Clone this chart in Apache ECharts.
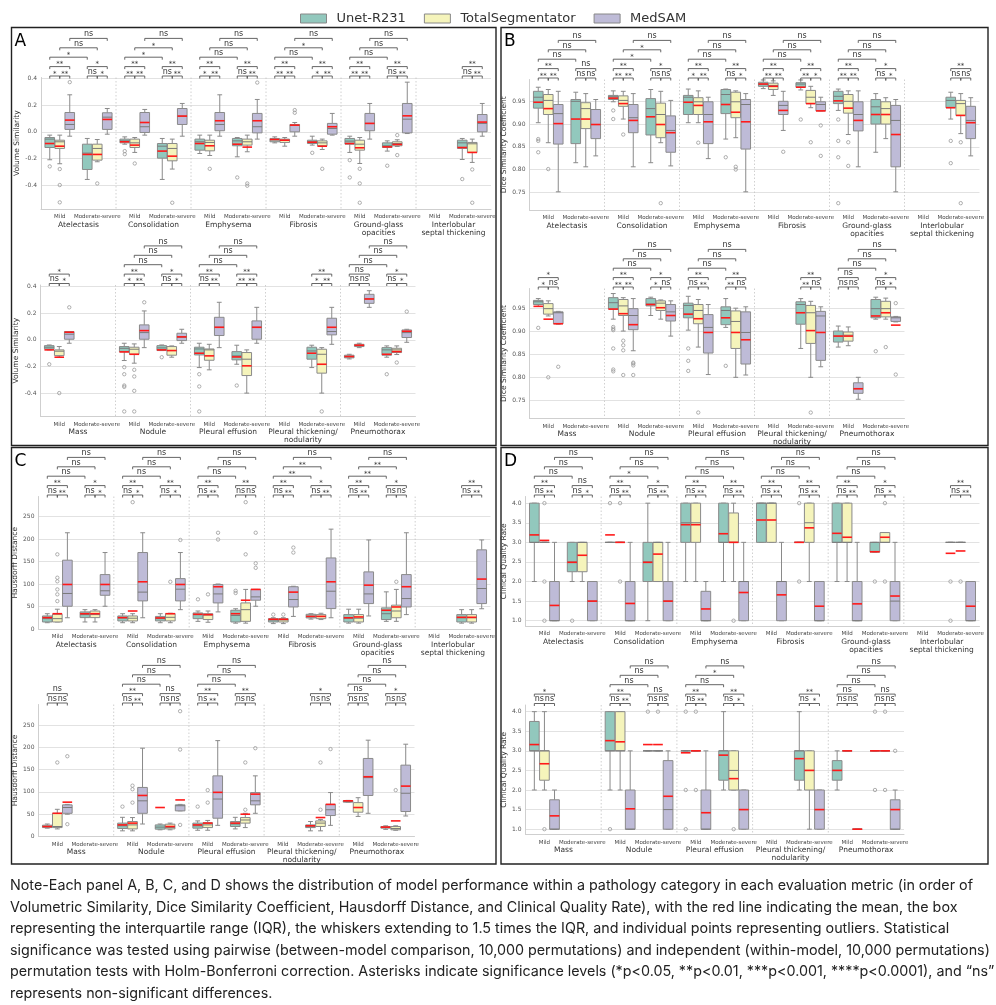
<!DOCTYPE html>
<html><head><meta charset="utf-8">
<script src="https://cdn.jsdelivr.net/npm/echarts@6.0.0/dist/echarts.min.js"></script>
<style>html,body{margin:0;padding:0;background:#fff}#c{width:996px;height:1005px}</style>
</head><body><div id="c"></div><script>
// ---------------- categories / labels ----------------
const models = ['Unet-R231', 'TotalSegmentator', 'MedSAM'];
const severities = ['Mild', 'Moderate-severe'];
const topPathologies = ['Atelectasis', 'Consolidation', 'Emphysema', 'Fibrosis', 'Ground-glass\nopacities', 'Interlobular\nseptal thickening'];
const bottomPathologies = ['Mass', 'Nodule', 'Pleural effusion', 'Pleural thickening/\nnodularity', 'Pneumothorax'];
const metricNames = ['Volume Similarity', 'Dice Similarity Coefficient', 'Hausdorff Distance', 'Clinical Quality Rate'];
const panelLetters = ['A', 'B', 'C', 'D'];
// index order of the 22 entries: [Atel Mild, Atel Mod, Cons Mild, Cons Mod, Emph.., Fibr.., GGO.., ILS.., Mass.., Nodule.., PE.., PT.., Pneumo..]
// box = [lower whisker, Q1, median, Q3, upper whisker]

// ---------------- A: Volume Similarity ----------------
const vsUnetBox = [[-0.21,-0.118,-0.055,-0.043,-0.025],[-0.358,-0.283,-0.16,-0.093,-0.05],[-0.093,-0.083,-0.068,-0.055,-0.038],[-0.358,-0.198,-0.108,-0.088,-0.05],[-0.163,-0.138,-0.075,-0.055,-0.025],[-0.188,-0.105,-0.068,-0.05,-0.043],[-0.083,-0.075,-0.058,-0.05,-0.038],[-0.1,-0.088,-0.075,-0.063,-0.033],[-0.155,-0.093,-0.07,-0.05,-0.033],[-0.145,-0.118,-0.105,-0.083,-0.068],null,[-0.208,-0.125,-0.083,-0.063,-0.05],[-0.075,-0.068,-0.055,-0.043,-0.038],null,[-0.155,-0.09,-0.063,-0.05,-0.025],[-0.08,-0.08,-0.06,-0.043,-0.038],[-0.208,-0.113,-0.068,-0.055,-0.025],[-0.183,-0.15,-0.12,-0.088,-0.04],null,[-0.208,-0.145,-0.083,-0.055,-0.04],[-0.143,-0.135,-0.125,-0.115,-0.108],[-0.13,-0.115,-0.075,-0.058,-0.045]];
const vsUnetMean = [-0.088,-0.17,-0.075,-0.145,-0.088,-0.093,-0.058,-0.078,-0.088,-0.113,null,-0.118,-0.075,null,-0.09,-0.075,-0.1,-0.128,null,-0.1,-0.125,-0.108];
const vsUnetOut = [[-0.26],[],[-0.145,-0.168],[],[],[-0.343],[],[-0.158],[-0.213,-0.343],[-0.255],[],[-0.355],[-0.183],[],[-0.205,-0.258,-0.343,-0.353,-0.538],[-0.13],[-0.258,-0.35,-0.538],[-0.343],[],[],[],[-0.258]];
const vsTotalBox = [[-0.24,-0.125,-0.075,-0.063,-0.025],[-0.225,-0.213,-0.125,-0.093,-0.058],[-0.155,-0.118,-0.083,-0.055,-0.043],[-0.28,-0.218,-0.125,-0.088,-0.055],[-0.178,-0.143,-0.08,-0.063,-0.025],[-0.15,-0.1,-0.075,-0.055,-0.025],[-0.108,-0.08,-0.063,-0.055,-0.043],[-0.133,-0.105,-0.083,-0.068,-0.055],[-0.238,-0.138,-0.093,-0.063,-0.043],[-0.11,-0.105,-0.088,-0.075,-0.06],null,[-0.23,-0.155,-0.09,-0.08,-0.055],[-0.13,-0.118,-0.085,-0.075,-0.05],null,[-0.175,-0.108,-0.07,-0.055,-0.03],[-0.13,-0.115,-0.08,-0.05,-0.045],[-0.225,-0.153,-0.075,-0.068,-0.033],[-0.4,-0.268,-0.145,-0.095,-0.075],null,[-0.4,-0.25,-0.108,-0.07,-0.058],[-0.058,-0.05,-0.04,-0.033,-0.025],[-0.11,-0.095,-0.075,-0.063,-0.045]];
const vsTotalMean = [-0.108,-0.17,-0.1,-0.183,-0.105,-0.115,-0.063,-0.108,-0.12,-0.095,null,-0.155,-0.13,null,-0.108,-0.08,-0.12,-0.195,null,-0.183,-0.04,-0.088];
const vsTotalOut = [[-0.28,-0.4,-0.53],[-0.388],[-0.238],[-0.533],[-0.278],[-0.388,-0.405],[],[-0.278],[-0.278,-0.388,-0.533],[-0.025,-0.175],[],[-0.283,-0.533],[-0.4],[],[-0.225,-0.275,-0.383,-0.538],[],[],[],[],[-0.538],[],[-0.17]];
const vsMedsamBox = [[-0.033,0.018,0.055,0.145,0.278],[-0.018,0.018,0.11,0.143,0.175],[-0.025,-0.005,0.038,0.145,0.168],[-0.033,0.055,0.118,0.175,0.213],[-0.033,0.008,0.055,0.145,0.278],[-0.055,-0.008,0.038,0.138,0.243],[-0.033,0.0,0.048,0.055,0.07],[-0.025,-0.018,0.025,0.063,0.138],[-0.055,0.008,0.063,0.138,0.213],[-0.013,-0.008,0.095,0.213,0.373],null,[-0.033,0.0,0.063,0.13,0.213],[-0.025,0.005,0.043,0.063,0.063],null,[-0.058,0.005,0.055,0.113,0.218],[-0.025,-0.005,0.02,0.05,0.08],[-0.058,0.033,0.095,0.17,0.283],[-0.025,0.005,0.095,0.143,0.245],null,[-0.033,0.038,0.063,0.163,0.245],[0.245,0.275,0.308,0.343,0.37],[-0.018,0.018,0.055,0.075,0.08]];
const vsMedsamMean = [0.088,0.093,0.07,0.118,0.083,0.083,0.05,0.038,0.063,0.12,null,0.073,0.058,null,0.07,0.023,0.095,0.095,null,0.095,0.308,0.065];
const vsMedsamOut = [[0.373],[],[],[],[],[0.37],[0.143,0.163],[],[],[],[],[],[0.245],[],[0.283],[],[],[],[],[],[],[0.213]];
// significance per pathology: [Mild (U-T, T-M, U-M), Moderate-severe (same), cross Mild vs Mod (U, T, M)]
const vsSig = [[['*','**','**'],['ns','*','*'],['*','ns','ns']],[['**','**','**'],['ns','**','**'],['*','*','ns']],[['*','**','**'],['ns','**','**'],['ns','ns','ns']],[['**','**','**'],['*','**','**'],['ns','*','ns']],[['**','**','**'],['ns','**','**'],['ns','ns','ns']],[null,['ns','**','**'],null],[['ns','*','*'],null,null],[['*','**','**'],['ns','*','*'],['ns','ns','ns']],[['ns','**','**'],['**','**','**'],['ns','ns','ns']],[null,['*','**','**'],null],[['ns','ns','ns'],['ns','*','*'],['ns','ns','ns']]];

// ---------------- B: Dice Similarity Coefficient ----------------
const dscUnetBox = [[0.903,0.935,0.959,0.972,0.981],[0.815,0.857,0.95,0.954,0.97],[0.949,0.954,0.96,0.963,0.973],[0.815,0.876,0.934,0.956,0.976],[0.903,0.921,0.959,0.963,0.977],[0.867,0.923,0.965,0.976,0.977],[0.978,0.983,0.988,0.992,0.997],[0.975,0.981,0.988,0.991,0.997],[0.93,0.945,0.961,0.972,0.977],[0.838,0.9,0.938,0.954,0.967],null,[0.911,0.936,0.952,0.959,0.97],[0.955,0.959,0.965,0.968,0.972],null,[0.927,0.949,0.963,0.974,0.983],[0.935,0.956,0.96,0.972,0.975],[0.903,0.93,0.957,0.962,0.977],[0.909,0.915,0.946,0.954,0.972],null,[0.863,0.916,0.959,0.965,0.972],[0.866,0.877,0.89,0.901,0.912],[0.927,0.93,0.95,0.97,0.975]];
const dscUnetMean = [0.948,0.911,0.957,0.916,0.948,0.943,0.988,0.981,0.951,0.921,null,0.936,0.955,null,0.949,0.959,0.938,0.93,null,0.941,0.89,0.934];
const dscUnetOut = [[0.867,0.863,0.838],[],[0.93,0.911],[],[],[0.827],[],[0.91],[0.91,0.863,0.827,0.726],[],[],[0.863,0.814],[0.908],[],[0.91,0.906,0.903,0.863,0.817,0.813],[],[0.863,0.836,0.814],[0.825],[],[],[],[0.857]];
const dscTotalBox = [[0.859,0.921,0.952,0.965,0.976],[0.806,0.89,0.934,0.947,0.967],[0.911,0.939,0.952,0.962,0.972],[0.859,0.87,0.921,0.946,0.972],[0.903,0.921,0.949,0.958,0.973],[0.87,0.914,0.949,0.97,0.973],[0.963,0.976,0.985,0.99,0.995],[0.936,0.945,0.959,0.974,0.983],[0.877,0.924,0.95,0.965,0.973],[0.868,0.9,0.934,0.949,0.958],null,[0.879,0.919,0.945,0.952,0.967],[0.934,0.938,0.95,0.961,0.967],null,[0.901,0.935,0.956,0.97,0.974],[0.927,0.946,0.962,0.967,0.969],[0.866,0.917,0.946,0.959,0.97],[0.8,0.863,0.922,0.945,0.951],null,[0.8,0.874,0.941,0.957,0.966],[0.869,0.879,0.892,0.899,0.91],[0.927,0.932,0.95,0.966,0.973]];
const dscTotalMean = [0.934,0.911,0.945,0.899,0.941,0.926,0.983,0.945,0.935,0.921,null,0.919,0.927,null,0.939,0.952,0.928,0.898,null,0.902,0.89,0.941];
const dscTotalOut = [[0.801],[],[0.877],[0.726],[0.859],[0.806,0.8],[],[0.86],[0.86,0.808],[],[],[0.86,0.726],[0.8],[],[0.88,0.87,0.859,0.805],[],[0.723],[],[],[0.723],[],[0.866]];
const dscMedsamBox = [[0.751,0.856,0.923,0.943,0.972],[0.83,0.868,0.899,0.932,0.954],[0.806,0.881,0.914,0.943,0.967],[0.808,0.838,0.886,0.918,0.952],[0.824,0.857,0.921,0.949,0.959],[0.751,0.845,0.943,0.954,0.967],[0.886,0.921,0.941,0.95,0.972],[0.929,0.929,0.943,0.949,0.959],[0.806,0.885,0.921,0.949,0.973],[0.751,0.806,0.908,0.941,0.954],null,[0.83,0.868,0.908,0.939,0.958],[0.916,0.917,0.941,0.943,0.944],null,[0.858,0.904,0.935,0.95,0.972],[0.89,0.923,0.943,0.959,0.967],[0.806,0.853,0.909,0.937,0.959],[0.805,0.829,0.898,0.943,0.954],null,[0.823,0.837,0.934,0.944,0.954],[0.752,0.765,0.775,0.788,0.8],[0.921,0.922,0.93,0.932,0.933]];
const dscMedsamMean = [0.901,0.899,0.908,0.881,0.905,0.905,0.93,0.929,0.908,0.877,null,0.903,0.917,null,0.915,0.935,0.898,0.882,null,0.898,0.775,0.914];
const dscMedsamOut = [[],[],[],[],[],[],[0.839],[0.897,0.83],[],[],[],[],[0.823],[],[0.832,0.83,0.826,0.805],[],[],[],[],[],[],[0.962,0.806]];
const dscSig = [[['**','**','**'],['ns','ns','ns'],['ns','ns','ns']],[['**','**','**'],['ns','ns','*'],['*','*','ns']],[['*','**','**'],['ns','*','**'],['ns','ns','ns']],[['**','**','**'],['**','*','**'],['ns','ns','ns']],[['**','**','**'],['ns','*','*'],['ns','ns','ns']],[null,['ns','ns','**'],null],[['*','ns','*'],null,null],[['**','**','**'],['*','ns','*'],['ns','ns','ns']],[['ns','**','**'],['**','ns','**'],['ns','ns','ns']],[null,['**','ns','**'],null],[['ns','ns','ns'],['ns','*','*'],['ns','ns','ns']]];

// ---------------- C: Hausdorff Distance ----------------
const hdUnetBox = [[14,15.6,23,29,34],[15.6,25.3,32,38,43],[14,17.9,24.6,29,34],[14,18,23,28,34],[17,23,32,35.7,40],[13,15.6,30,41.7,45],[12,15.6,20,23,25],[22,24.6,28,32.7,34],[13,15.6,24,32,44],[17,21,34,47,82.6],null,[13,15.6,25,32,43],[18.7,20,22.4,25.4,28],null,[12.7,18,24,30,43],[15,16.4,21,26,28],[14,18.7,24,30,35],[17,22.4,28,33.6,43],null,[12.7,20,22,26,33.6],[77,77,78.5,80.6,81],[16,18.7,20.5,22.4,24]];
const hdUnetMean = [25.3,34,25.3,24.6,32.7,34,21.6,28,25,41.7,null,26,22.4,null,26,65,26,30,null,24,80,21];
const hdUnetOut = [[],[],[],[],[66],[85,80],[32],[],[],[],[],[],[],[],[67],[],[67],[],[],[],[],[]];
const hdTotalBox = [[15.6,15.6,23,32.7,44],[15.6,25.3,32,40,43],[14,17.9,24,29,34],[14,18,26,34,35],[15,21,31,34,40],[13,17,43,58,88],[12,15.6,20,23,25],[21,23,28,32,35],[13,15.6,24,32,44],[17,25,40,53,88],null,[13,15.6,25,32,43],[17,20,22.4,52,61],null,[12.7,17,26,33.6,42.5],[15,17,20,27.6,30],[14,20,26,31,36],[20,30,37,42.5,52],null,[12.7,22.4,30,35,38],[45,54.5,65,76,87],[14,15,18,22.4,24]];
const hdTotalMean = [34,34,40,34,32,64,21.6,28,26.8,49,null,26,52,null,30,22.4,30,50,null,42.5,65,35];
const hdTotalOut = [[166,114,106,88,77,62],[],[282],[105],[77],[282,166],[32],[],[],[105],[],[],[166],[],[114,106,76],[],[104,76],[166,60],[],[166,60],[],[104]];
const hdMedsamBox = [[25,50.6,79,153,214],[50.6,75,85,121,170],[25,62.5,82,170,214],[43,62.5,88.5,112,170],[38,58,78,99,100],[50.6,64,71.4,88,88],[28,49,65.5,94,95],[25,45.4,84,158,222],[29,56.5,78,127,198],[32,49,67.7,121,214],null,[45,56.5,90,176,198],[50,52,65,71,72],null,[28,52,80,110,198],[57.5,57.5,69,71,72],[25,41,84,136,215],[52,71,80,98.5,136],null,[25,47,60,72,98.5],[52,92,132,175,216],[46,56,97,160,207]];
const hdMedsamMean = [99,99,105,99,94,88,82,105,97.5,94,null,111,77,null,92,82,99,95,null,72,134,113];
const hdMedsamOut = [[],[],[],[198],[214,199],[214,146,136],[181,170],[],[],[],[],[],[180,27.6],[],[],[281,195,26],[],[198],[],[196],[],[]];
const hdSig = [[['ns','**','**'],['ns','*','*'],['ns','ns','ns']],[['ns','*','**'],['ns','*','**'],['ns','ns','ns']],[['ns','**','**'],['ns','ns','**'],['ns','ns','ns']],[['ns','**','**'],['ns','**','*'],['**','**','ns']],[['ns','**','**'],['ns','ns','*'],['**','**','ns']],[null,['ns','**','**'],null],[['ns','ns','ns'],null,null],[['ns','**','**'],['ns','ns','ns'],['ns','ns','ns']],[['ns','**','**'],['ns','ns','**'],['ns','ns','ns']],[null,['ns','ns','*'],null],[['ns','ns','ns'],['ns','ns','*'],['ns','ns','ns']]];

// ---------------- D: Clinical Quality Rate ----------------
const cqrUnetBox = [[2,3,3,4,4],[2,2.25,2.5,3,3],[3,3,3,3,3],[1,2,2.5,3,4],[2,3,3.5,4,4],[2,3,3,4,4],[3,3,4,4,4],[3,3,3,3,3],[2,3,3,4,4],[2.75,2.75,3,3,3],null,[3,3,3,3,3],[2,3,3,3.75,4],null,[2,3,3,4,4],[3,3,3,3,3],[3,3,3,3,3],[2,2.25,3,3,4],null,[2,2.25,3,3,4],[2,2.25,2.5,2.75,3],[3,3,3,3,3]];
const cqrUnetMean = [3.19,2.49,3.19,2.49,3.45,3.22,3.57,3.0,3.23,2.76,null,2.72,3.16,null,3.26,3.16,2.95,2.89,null,2.8,2.5,3.0];
const cqrUnetOut = [[],[1],[4],[],[],[],[],[4,2],[],[2],[],[2,1],[],[],[1],[4],[4,2,1],[],[],[],[],[4,2]];
const cqrTotalBox = [[3,3,3,3,3],[2,2.25,3,3,3],[3,3,3,3,3],[2,2,3,3,3],[2,3,3.5,4,4],[2,3,3,3.75,4],[3,3,4,4,4],[2,3,3.5,4,4],[2,3,3,4,4],[3,3,3,3.25,3.25],null,[3,3,3,3,3],[2,2.25,3,3,4],null,[2,3,3,4,4],[3,3,3,3,3],[3,3,3,3,3],[2,2,2.5,3,3],null,[1,2,2.5,3,3],[3,3,3,3,3],[3,3,3,3,3]];
const cqrTotalMean = [3.05,2.67,3.0,2.7,3.45,3.0,3.57,3.37,3.13,3.13,null,2.78,2.67,null,3.23,3.16,3.0,2.29,null,2.5,3.0,3.0];
const cqrTotalOut = [[4,2,1],[],[4,2],[],[],[1],[],[],[],[4,2],[],[2],[1],[],[],[4],[4,2],[1],[],[],[],[4,2]];
const cqrMedsamBox = [[1,1,1,2,3],[1,1,1.5,2,2],[1,1,1,2,3],[1,1,1.5,2,3],[1,1,1,1.75,2],[1,1,2,2,3],[1,1,2,2,3],[1,1,1,2,2],[1,1,1,2,3],[1,1,1.5,2,3],null,[1,1,1,2,2],[1,1,1,1.75,2],null,[1,1,1,2,3],[1,1,1.5,2.75,3],[1,1,1,2,3],[1,1,1.5,2,2],null,[1,1,1.5,2,2],[1,1,1,1,1],[1,1,1,1.75,2]];
const cqrMedsamMean = [1.39,1.5,1.44,1.5,1.3,1.72,1.66,1.37,1.43,1.63,null,1.37,1.34,null,1.52,1.84,1.42,1.5,null,1.5,1.0,1.5];
const cqrMedsamOut = [[],[],[],[],[],[],[],[],[],[],[],[],[],[],[],[],[],[],[],[],[],[3]];
const cqrSig = [[['ns','**','**'],['ns','*','ns'],['ns','ns','ns']],[['ns','**','**'],['ns','**','*'],['*','ns','ns']],[['ns','**','**'],['ns','**','**'],['ns','ns','ns']],[['ns','**','**'],['ns','**','**'],['ns','ns','ns']],[['ns','**','**'],['ns','*','*'],['ns','ns','ns']],[null,['ns','**','**'],null],[['ns','ns','*'],null,null],[['ns','**','**'],['ns','ns','ns'],['ns','ns','ns']],[['ns','**','**'],['ns','*','**'],['ns','*','ns']],[null,['ns','*','**'],null],[['ns','ns','ns'],['ns','ns','ns'],['ns','ns','ns']]];

const noteLines = [
  'Note-Each panel A, B, C, and D shows the distribution of model performance within a pathology category in each evaluation metric (in order of',
  'Volumetric Similarity, Dice Similarity Coefficient, Hausdorff Distance, and Clinical Quality Rate), with the red line indicating the mean, the box',
  'representing the interquartile range (IQR), the whiskers extending to 1.5 times the IQR, and individual points representing outliers. Statistical',
  'significance was tested using pairwise (between-model comparison, 10,000 permutations) and independent (within-model, 10,000 permutations)',
  'permutation tests with Holm-Bonferroni correction. Asterisks indicate significance levels (*p<0.05, **p<0.01, ***p<0.001, ****p<0.0001), and \u201cns\u201d',
  'represents non-significant differences.'
];

// ---------------- styling / layout ----------------
const modelColors = ['#92c8bd', '#f5f4bb', '#bebbd7'];
const FONT = 'DejaVu Sans';
const panelGrids = [
  [[41, 77.5, 450, 131.5], [40.5, 285, 375, 131.5]],
  [[529.5, 79.5, 450, 130.5], [529.5, 288.5, 375, 130]],
  [[38.5, 496.5, 452, 132.5], [38.5, 704.5, 376, 132]],
  [[525.5, 496.5, 454, 129.5], [525.5, 705, 378.5, 129.5]]
];
const yRanges = [[[-0.58, 0.408], [-0.576, 0.413]], [[0.711, 0.998], [0.71, 0.994]], [[0, 294.6], [0, 296]], [[0.865, 4.17], [0.864, 4.17]]];
const ySteps = [0.2, 0.05, 50, 0.5];
const yDecimals = [1, 2, 0, 1];
const nameGaps = [20, 21, 18, 16];
const panelFrames = [[11.5, 27.5, 484.5, 418], [501, 27.5, 487, 418], [11.5, 447.5, 484.5, 416.5], [501, 447.5, 487, 416.5]];

const metricDefs = [
  { boxes: [vsUnetBox, vsTotalBox, vsMedsamBox], means: [vsUnetMean, vsTotalMean, vsMedsamMean], outs: [vsUnetOut, vsTotalOut, vsMedsamOut], sig: vsSig },
  { boxes: [dscUnetBox, dscTotalBox, dscMedsamBox], means: [dscUnetMean, dscTotalMean, dscMedsamMean], outs: [dscUnetOut, dscTotalOut, dscMedsamOut], sig: dscSig },
  { boxes: [hdUnetBox, hdTotalBox, hdMedsamBox], means: [hdUnetMean, hdTotalMean, hdMedsamMean], outs: [hdUnetOut, hdTotalOut, hdMedsamOut], sig: hdSig },
  { boxes: [cqrUnetBox, cqrTotalBox, cqrMedsamBox], means: [cqrUnetMean, cqrTotalMean, cqrMedsamMean], outs: [cqrUnetOut, cqrTotalOut, cqrMedsamOut], sig: cqrSig }
];

function makeFormatter(step, dec) {
  return function (v) {
    const q = v / step;
    if (Math.abs(q - Math.round(q)) > 1e-6) return '';
    const val = Math.round(q) * step;
    return (Math.abs(val) < 1e-9 ? 0 : val).toFixed(dec);
  };
}
function hueStep(api) { return api.size([1, 0])[0] * 0.8 / 3; }

function makeBoxRender(k, color) {
  return function (params, api) {
    const x = api.value(0);
    const step = hueStep(api);
    const cx = api.coord([x, api.value(3)])[0] + (k - 1) * step;
    const w = step * 0.96;
    const Y = (i) => api.coord([x, api.value(i)])[1];
    const yLo = Y(1), yQ1 = Y(2), yMed = Y(3), yQ3 = Y(4), yHi = Y(5), yMean = Y(6);
    const cap = w * 0.5;
    const ls = { stroke: '#8a8a8a', lineWidth: 1 };
    return {
      type: 'group', children: [
        { type: 'line', shape: { x1: cx, y1: yQ1, x2: cx, y2: yLo }, style: ls },
        { type: 'line', shape: { x1: cx, y1: yQ3, x2: cx, y2: yHi }, style: ls },
        { type: 'line', shape: { x1: cx - cap / 2, y1: yLo, x2: cx + cap / 2, y2: yLo }, style: ls },
        { type: 'line', shape: { x1: cx - cap / 2, y1: yHi, x2: cx + cap / 2, y2: yHi }, style: ls },
        { type: 'rect', shape: { x: cx - w / 2, y: yQ3, width: w, height: Math.max(yQ1 - yQ3, 0) }, style: { fill: color, stroke: '#8a8a8a', lineWidth: 1 } },
        { type: 'line', shape: { x1: cx - w / 2, y1: yMed, x2: cx + w / 2, y2: yMed }, style: { stroke: '#7a7a7a', lineWidth: 1 } },
        { type: 'line', shape: { x1: cx - w / 2, y1: yMean, x2: cx + w / 2, y2: yMean }, style: { stroke: '#ff1a1a', lineWidth: 1.6 } }
      ]
    };
  };
}
function renderOutlier(params, api) {
  const p = api.coord([api.value(0), api.value(1)]);
  const k = api.value(2);
  return { type: 'circle', shape: { cx: p[0] + (k - 1) * hueStep(api), cy: p[1], r: 1.7 }, style: { fill: 'rgba(0,0,0,0)', stroke: '#9a9a9a', lineWidth: 0.8 } };
}
function renderSeparator(params, api) {
  const band = api.size([1, 0])[0];
  const px = api.coord([api.value(0), api.value(1)])[0] + band / 2;
  const cs = params.coordSys;
  return { type: 'line', shape: { x1: px, y1: cs.y, x2: px, y2: cs.y + cs.height }, style: { stroke: '#c4c4c4', lineWidth: 0.8, lineDash: [1.5, 2] } };
}
function makeBracketRender(labels) {
  return function (params, api) {
    const step = hueStep(api);
    const yv = api.value(5);
    const px1 = api.coord([api.value(0), yv])[0] + (api.value(1) - 1) * step;
    const px2 = api.coord([api.value(2), yv])[0] + (api.value(3) - 1) * step;
    const top = params.coordSys.y;
    const yl = top - 1.5 - api.value(4) * 9.4;
    const lab = labels[params.dataIndex];
    const ns = lab === 'ns';
    return {
      type: 'group', children: [
        { type: 'polyline', shape: { points: [[px1, yl + 2.5], [px1, yl], [px2, yl], [px2, yl + 2.5]] }, style: { stroke: '#555', lineWidth: 0.9, fill: null } },
        { type: 'text', x: (px1 + px2) / 2, y: ns ? yl - 0.2 : yl + 1.5, style: { text: lab, align: 'center', verticalAlign: 'bottom', fontSize: ns ? 8 : 7, fill: '#333', fontFamily: FONT } }
      ]
    };
  };
}

const grids = [], xAxes = [], yAxes = [], series = [];
metricDefs.forEach((M, m) => {
  [0, 1].forEach((r) => {
    const g = grids.length;
    const [l, t, w, h] = panelGrids[m][r];
    grids.push({ left: l, top: t, width: w, height: h });
    const paths = r === 0 ? topPathologies : bottomPathologies;
    const start = r === 0 ? 0 : 12;
    const nGroups = paths.length * 2;
    const [ymin, ymax] = yRanges[m][r];
    xAxes.push({
      type: 'category', gridIndex: g, position: 'bottom',
      data: paths.flatMap((p, pi) => severities.map((s) => s + '|' + pi)),
      axisLine: { onZero: false, lineStyle: { color: '#cfcfcf' } }, axisTick: { show: false }, splitLine: { show: false },
      axisLabel: { interval: 0, fontSize: 5.5, color: '#444', margin: 5, fontFamily: FONT, formatter: (v) => v.split('|')[0] }
    });
    xAxes.push({
      type: 'category', gridIndex: g, position: 'bottom', offset: 8, data: paths,
      axisLine: { show: false, onZero: false }, axisTick: { show: false }, splitLine: { show: false },
      axisLabel: { interval: 0, fontSize: 7.5, lineHeight: 8, color: '#333', margin: 4, fontFamily: FONT }
    });
    yAxes.push({
      type: 'value', gridIndex: g, min: ymin, max: ymax, minInterval: ySteps[m], maxInterval: ySteps[m],
      splitNumber: Math.round((ymax - ymin) / ySteps[m]),
      name: metricNames[m], nameLocation: 'middle', nameGap: nameGaps[m],
      nameTextStyle: { fontSize: 7.5, color: '#333', fontFamily: FONT },
      axisLine: { show: true, lineStyle: { color: '#cfcfcf' } }, axisTick: { show: false },
      axisLabel: { fontSize: 6, color: '#555', margin: 4, fontFamily: FONT, formatter: makeFormatter(ySteps[m], yDecimals[m]) },
      splitLine: { show: true, showMinLine: false, showMaxLine: false, lineStyle: { color: '#e2e2e2', width: 1 } }
    });
    const xi = 2 * g;
    // separators
    const sepData = [];
    for (let p = 0; p < paths.length - 1; p++) sepData.push([2 * p + 1, ymin]);
    series.push({ type: 'custom', xAxisIndex: xi, yAxisIndex: g, z: 1, data: sepData, renderItem: renderSeparator, silent: true });
    // boxes
    for (let k = 0; k < 3; k++) {
      const data = [];
      for (let j = 0; j < nGroups; j++) {
        const b = M.boxes[k][start + j];
        if (!b) continue;
        data.push([j, b[0], b[1], b[2], b[3], b[4], M.means[k][start + j]]);
      }
      series.push({
        type: 'custom', name: models[k], xAxisIndex: xi, yAxisIndex: g, z: 2, data: data,
        encode: { x: 0, y: [1, 2, 3, 4, 5, 6] },
        itemStyle: { color: modelColors[k], borderColor: '#888', borderWidth: 1 },
        renderItem: makeBoxRender(k, modelColors[k]), silent: true
      });
    }
    // outliers
    const outData = [];
    for (let k = 0; k < 3; k++) for (let j = 0; j < nGroups; j++) (M.outs[k][start + j] || []).forEach((v) => outData.push([j, v, k]));
    series.push({ type: 'custom', xAxisIndex: xi, yAxisIndex: g, z: 3, data: outData, renderItem: renderOutlier, silent: true });
    // significance brackets
    const items = [], labels = [];
    M.sig.slice(r === 0 ? 0 : 6, r === 0 ? 6 : 11).forEach((entry, p) => {
      const [mild, mod, cross] = entry;
      [mild, mod].forEach((s, si) => {
        if (!s) return;
        const x = 2 * p + si;
        items.push([x, 0, x, 1, 0, ymin]); labels.push(s[0]);
        items.push([x, 1, x, 2, 0, ymin]); labels.push(s[1]);
        items.push([x, 0, x, 2, 1, ymin]); labels.push(s[2]);
      });
      if (cross) cross.forEach((c, k) => { items.push([2 * p, k, 2 * p + 1, k, 2 + k, ymin]); labels.push(c); });
    });
    series.push({ type: 'custom', xAxisIndex: xi, yAxisIndex: g, z: 4, clip: false, data: items, encode: { x: 0, y: 5 }, renderItem: makeBracketRender(labels), silent: true });
  });
});

const graphic = [];
panelFrames.forEach((f, i) => {
  graphic.push({ type: 'rect', silent: true, shape: { x: f[0], y: f[1], width: f[2], height: f[3] }, style: { fill: 'none', stroke: '#222', lineWidth: 1.4 } });
  graphic.push({ type: 'text', silent: true, x: f[0] + 3, y: f[1] + 6, style: { text: panelLetters[i], fontSize: 17, fill: '#000', fontFamily: FONT } });
});
graphic.push({ type: 'text', silent: true, x: 10, y: 875, style: { text: noteLines.join('\n'), fontSize: 14.3, lineHeight: 21.5, fill: '#222', fontFamily: 'Inter' } });

const chart = echarts.init(document.getElementById('c'), null, { renderer: 'canvas' });
chart.setOption({
  animation: false,
  backgroundColor: '#fff',
  textStyle: { fontFamily: FONT },
  legend: {
    data: models, left: 295, top: 7, icon: 'rect', itemWidth: 26, itemHeight: 9, itemGap: 18, selectedMode: false,
    itemStyle: { borderColor: '#888', borderWidth: 1 },
    textStyle: { fontSize: 13, color: '#333', fontFamily: FONT, padding: [0, 0, 0, 5] }
  },
  grid: grids, xAxis: xAxes, yAxis: yAxes, series: series, graphic: graphic
});
</script></body></html>
